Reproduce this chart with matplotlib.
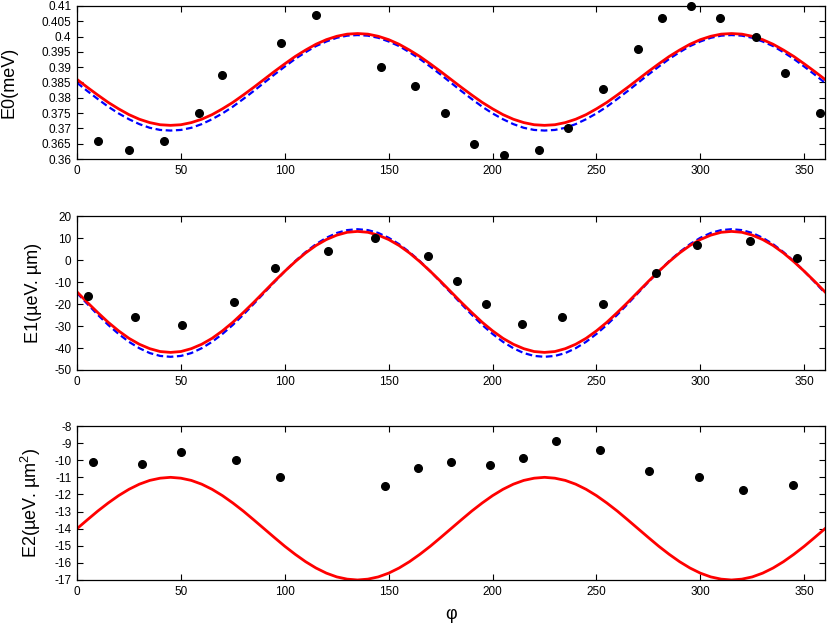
import matplotlib
matplotlib.use('Agg')
import matplotlib.pyplot as plt
from matplotlib.ticker import FuncFormatter

plt.rcParams['font.family'] = ['Liberation Sans', 'DejaVu Sans']
plt.rcParams['axes.unicode_minus'] = False
plt.rcParams['mathtext.default'] = 'regular'

phi_curve = list(range(0, 361, 5))

e0_red_half = [0.3860, 0.3834, 0.3809, 0.3785, 0.3764, 0.3745, 0.3730, 0.3719, 0.3712,
               0.3710, 0.3712, 0.3719, 0.3730, 0.3745, 0.3764, 0.3785, 0.3809, 0.3834,
               0.3860, 0.3886, 0.3911, 0.3935, 0.3956, 0.3975, 0.3990, 0.4001, 0.4008,
               0.4010, 0.4008, 0.4001, 0.3990, 0.3975, 0.3956, 0.3935, 0.3911, 0.3886]
e0_blue_half = [0.3849, 0.3822, 0.3796, 0.3771, 0.3749, 0.3730, 0.3714, 0.3702, 0.3695,
                0.3693, 0.3695, 0.3702, 0.3714, 0.3730, 0.3749, 0.3771, 0.3796, 0.3822,
                0.3849, 0.3876, 0.3902, 0.3927, 0.3949, 0.3969, 0.3984, 0.3996, 0.4003,
                0.4005, 0.4003, 0.3996, 0.3984, 0.3969, 0.3949, 0.3927, 0.3902, 0.3876]
e1_red_half = [-14.5, -19.3, -23.9, -28.3, -32.2, -35.6, -38.3, -40.3, -41.6,
               -42.0, -41.6, -40.3, -38.3, -35.6, -32.2, -28.3, -23.9, -19.3,
               -14.5, -9.7, -5.1, -0.75, 3.2, 6.6, 9.3, 11.3, 12.6,
               13.0, 12.6, 11.3, 9.3, 6.6, 3.2, -0.75, -5.1, -9.7]
e1_blue_half = [-15.0, -20.0, -24.9, -29.5, -33.6, -37.2, -40.1, -42.3, -43.6,
                -44.0, -43.6, -42.3, -40.1, -37.2, -33.6, -29.5, -24.9, -20.0,
                -15.0, -10.0, -5.1, -0.5, 3.6, 7.2, 10.1, 12.3, 13.6,
                14.0, 13.6, 12.3, 10.1, 7.2, 3.6, -0.5, -5.1, -10.0]
e2_red_half = [-14.0, -13.48, -12.97, -12.5, -12.07, -11.70, -11.40, -11.18, -11.05,
               -11.0, -11.05, -11.18, -11.40, -11.70, -12.07, -12.5, -12.97, -13.48,
               -14.0, -14.52, -15.03, -15.5, -15.93, -16.30, -16.60, -16.82, -16.95,
               -17.0, -16.95, -16.82, -16.60, -16.30, -15.93, -15.5, -15.03, -14.52]

e0_red = e0_red_half * 2 + e0_red_half[:1]
e0_blue = e0_blue_half * 2 + e0_blue_half[:1]
e1_red = e1_red_half * 2 + e1_red_half[:1]
e1_blue = e1_blue_half * 2 + e1_blue_half[:1]
e2_red = e2_red_half * 2 + e2_red_half[:1]

# measured points
e0_phi = [10.1, 25.0, 41.8, 58.8, 70.0, 98.3, 115.2, 146.1, 162.9, 177.1, 191.2, 205.5,
          222.3, 236.4, 253.2, 270.2, 281.4, 295.5, 309.6, 326.8, 340.7, 357.5]
e0_val = [0.366, 0.363, 0.366, 0.375, 0.3874, 0.398, 0.407, 0.390, 0.384, 0.375, 0.365,
          0.3614, 0.363, 0.370, 0.383, 0.396, 0.406, 0.410, 0.406, 0.400, 0.388, 0.375]

e1_phi = [5.3, 27.9, 50.3, 75.7, 95.3, 120.9, 143.3, 168.7, 182.9, 197.0, 214.0, 233.5,
          253.2, 278.7, 298.2, 323.7, 346.3]
e1_val = [-16.5, -26.0, -29.5, -18.9, -3.5, 3.9, 9.9, 2.0, -9.5, -20.0, -28.9, -25.9,
          -20.0, -5.9, 7.0, 8.5, 0.9]

e2_phi = [7.5, 31.5, 50.1, 76.7, 97.8, 148.0, 163.9, 180.0, 198.6, 214.6, 230.3, 251.6,
          275.3, 299.5, 320.5, 344.7]
e2_val = [-10.12, -10.2, -9.5, -10.0, -11.0, -11.5, -10.44, -10.1, -10.28, -9.87, -8.88,
          -9.42, -10.65, -11.0, -11.74, -11.43]

fig = plt.figure(figsize=(8.3, 6.3), dpi=100)
ax1 = fig.add_axes([0.0928, 0.7476, 0.9012, 0.2429])
ax2 = fig.add_axes([0.0928, 0.4127, 0.9012, 0.2444])
ax3 = fig.add_axes([0.0928, 0.0794, 0.9012, 0.2444])

red = '#ff0000'
blue = '#0000ff'

ax1.plot(phi_curve, e0_blue, color=blue, lw=1.6, dashes=(3, 1.6))
ax1.plot(phi_curve, e0_red, color=red, lw=2.0)
ax1.plot(e0_phi, e0_val, 'o', color='black', ms=5.5, clip_on=False)

ax2.plot(phi_curve, e1_blue, color=blue, lw=1.6, dashes=(3, 1.6))
ax2.plot(phi_curve, e1_red, color=red, lw=2.0)
ax2.plot(e1_phi, e1_val, 'o', color='black', ms=5.5, clip_on=False)

ax3.plot(phi_curve, e2_red, color=red, lw=2.0)
ax3.plot(e2_phi, e2_val, 'o', color='black', ms=5.5, clip_on=False)

ax1.set_ylim(0.36, 0.41)
ax1.set_yticks([0.36 + 0.005 * i for i in range(11)])
ax1.yaxis.set_major_formatter(FuncFormatter(lambda v, p: '%g' % round(v, 4)))
ax2.set_ylim(-50, 20)
ax2.set_yticks(range(-50, 21, 10))
ax3.set_ylim(-17, -8)
ax3.set_yticks(range(-17, -7))

for ax in (ax1, ax2, ax3):
    ax.set_xlim(0, 360)
    ax.set_xticks(range(0, 351, 50))
    ax.tick_params(direction='in', top=True, right=True, length=4.5, width=0.8,
                   labelsize=8.5, pad=4)
    for s in ax.spines.values():
        s.set_linewidth(0.9)

ax1.set_ylabel('E0(meV)', fontsize=13)
ax2.set_ylabel('E1(µeV. µm)', fontsize=13)
ax3.set_ylabel('E2(µeV. µm$^2$)', fontsize=13)
ax1.yaxis.set_label_coords(-0.080, 0.5)
ax2.yaxis.set_label_coords(-0.047, 0.5)
ax3.yaxis.set_label_coords(-0.045, 0.5)
ax3.set_xlabel('φ', fontsize=13, labelpad=6)

fig.savefig('out.png', dpi=100)
